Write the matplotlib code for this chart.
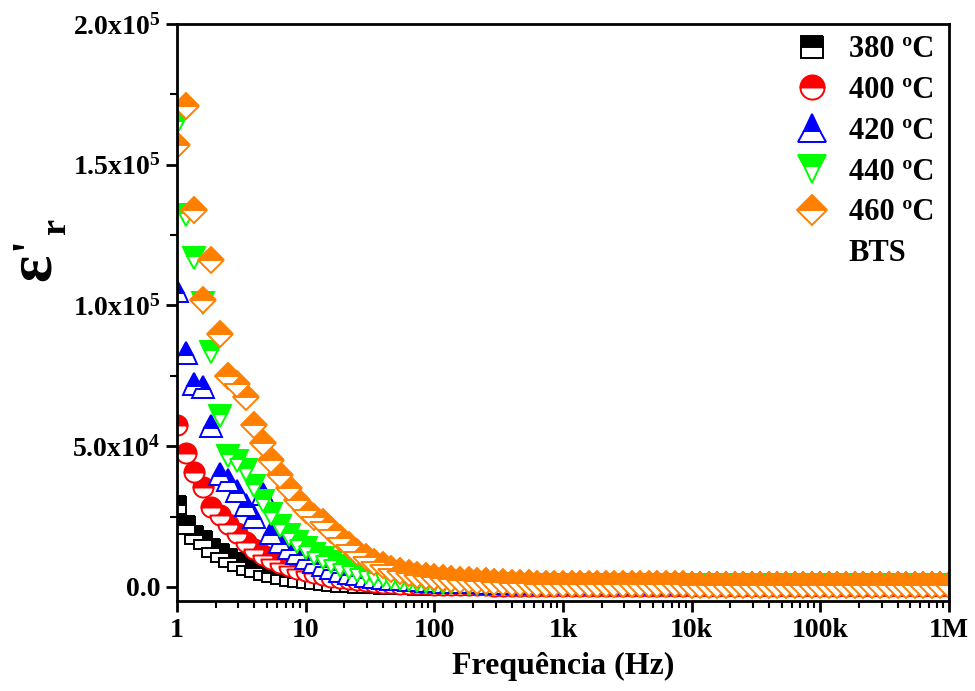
import numpy as np
import matplotlib.pyplot as plt
from matplotlib.lines import Line2D
from matplotlib.ticker import FixedLocator, LogLocator, NullFormatter

plt.rcParams["font.family"] = ["Liberation Serif", "DejaVu Serif"]
plt.rcParams["font.weight"] = "bold"
plt.rcParams["mathtext.fontset"] = "custom"
plt.rcParams["mathtext.rm"] = "Liberation Serif:bold"
plt.rcParams["mathtext.bf"] = "Liberation Serif:bold"
plt.rcParams["mathtext.it"] = "Liberation Serif:italic:bold"

# frequency sweep: 15 points per decade, 1 Hz to 1 MHz
freq = np.logspace(0, 6, 91)

# real permittivity, in units of 1e3
eps_380 = [29, 22, 18.5, 16.5, 14, 12, 10.3, 8.8, 7.6, 6.6, 5.7, 4.9, 4.2, 3.6, 3.1,
           2.7, 2.3, 2.0, 1.7, 1.5, 1.3, 1.1, 1.0, 0.9, 0.8, 0.7, 0.6, 0.6, 0.5, 0.5,
           0.4, 0.4, 0.4, 0.4, 0.4, 0.3, 0.3, 0.3, 0.3, 0.3, 0.3, 0.3, 0.3, 0.3, 0.3,
           0.3, 0.3, 0.3, 0.3, 0.3, 0.3, 0.3, 0.3, 0.3, 0.3, 0.3, 0.3, 0.3, 0.3, 0.3,
           0.3, 0.3, 0.3, 0.3, 0.3, 0.3, 0.3, 0.3, 0.3, 0.3, 0.3, 0.3, 0.3, 0.3, 0.3,
           0.3, 0.3, 0.3, 0.3, 0.3, 0.3, 0.3, 0.3, 0.3, 0.3, 0.3, 0.3, 0.3, 0.3, 0.3,
           0.3]
eps_400 = [57.5, 47.6, 41, 35.5, 28.5, 25.6, 22.4, 19.2, 16.1, 13.5, 11.5, 10, 8.6, 7.4, 6.4,
           5.5, 4.8, 4.2, 3.6, 3.1, 2.7, 2.3, 2.0, 1.7, 1.5, 1.3, 1.2, 1.1, 1.0, 0.9,
           0.8, 0.8, 0.7, 0.7, 0.6, 0.6, 0.6, 0.5, 0.5, 0.5, 0.5, 0.5, 0.5, 0.5, 0.5,
           0.5, 0.5, 0.5, 0.5, 0.5, 0.5, 0.5, 0.5, 0.5, 0.5, 0.5, 0.5, 0.5, 0.5, 0.5,
           0.5, 0.5, 0.5, 0.5, 0.5, 0.5, 0.5, 0.5, 0.5, 0.5, 0.5, 0.5, 0.5, 0.5, 0.5,
           0.5, 0.5, 0.5, 0.5, 0.5, 0.5, 0.5, 0.5, 0.5, 0.5, 0.5, 0.5, 0.5, 0.5, 0.5,
           0.5]
eps_420 = [105, 83, 72, 71, 57, 40, 38, 34, 29, 25, 33, 19, 16, 14, 12,
           10.3, 8.9, 7.7, 6.7, 5.8, 5.1, 4.5, 4.0, 3.6, 3.2, 2.9, 2.7, 2.5, 2.3, 2.1,
           2.0, 1.9, 1.8, 1.7, 1.6, 1.6, 1.5, 1.5, 1.5, 1.4, 1.4, 1.4, 1.4, 1.4, 1.4,
           1.4, 1.4, 1.4, 1.4, 1.4, 1.4, 1.4, 1.4, 1.4, 1.4, 1.4, 1.4, 1.4, 1.4, 1.4,
           1.4, 1.4, 1.4, 1.4, 1.4, 1.4, 1.4, 1.4, 1.4, 1.4, 1.4, 1.4, 1.4, 1.4, 1.4,
           1.4, 1.4, 1.4, 1.4, 1.4, 1.4, 1.4, 1.4, 1.4, 1.4, 1.4, 1.4, 1.4, 1.4, 1.4,
           1.4]
eps_440 = [165, 132, 117, 101, 83.5, 60.6, 46.4, 44.6, 41.7, 36, 30.4, 25.8, 21.8, 18.6, 15.8,
           13.7, 11.8, 10.2, 8.8, 7.6, 6.6, 5.7, 5.0, 4.4, 3.8, 3.3, 2.9, 2.5, 2.2, 1.9,
           1.7, 1.5, 1.4, 1.3, 1.2, 1.1, 1.0, 0.9, 0.9, 0.8, 0.8, 0.7, 0.7, 0.7, 0.6,
           0.6, 0.6, 0.6, 0.6, 0.6, 0.6, 0.6, 0.6, 0.6, 0.6, 0.6, 0.6, 0.6, 0.6, 0.6,
           0.6, 0.6, 0.6, 0.6, 0.6, 0.6, 0.6, 0.6, 0.6, 0.6, 0.6, 0.6, 0.6, 0.6, 0.6,
           0.6, 0.6, 0.6, 0.6, 0.6, 0.6, 0.6, 0.6, 0.6, 0.6, 0.6, 0.6, 0.6, 0.6, 0.6,
           0.6]
eps_460 = [157, 171, 134, 102, 116, 90, 75, 72, 67.6, 57.5, 51, 45, 39.8, 35.1, 30.9,
           27.5, 25, 22.9, 20.2, 17.5, 14.9, 12.3, 10.5, 9.0, 7.8, 6.4, 5.6, 5.0, 4.4, 3.9,
           3.5, 3.2, 2.9, 2.6, 2.4, 2.2, 2.0, 1.8, 1.6, 1.5, 1.4, 1.3, 1.2, 1.1, 1.0,
           1.0, 0.9, 0.9, 0.9, 0.9, 0.9, 0.9, 0.9, 0.9, 0.9, 0.9, 0.9, 0.9, 0.9, 0.9,
           0.8, 0.8, 0.8, 0.8, 0.8, 0.8, 0.8, 0.8, 0.8, 0.8, 0.8, 0.8, 0.8, 0.8, 0.8,
           0.7, 0.7, 0.7, 0.7, 0.7, 0.7, 0.7, 0.7, 0.7, 0.7, 0.7, 0.7, 0.7, 0.7, 0.7,
           0.7]

series = [eps_380, eps_400, eps_420, eps_440, eps_460]
labels = ["380 ºC", "400 ºC", "420 ºC", "440 ºC", "460 ºC"]
colors = ["#000000", "#ff0000", "#0000ff", "#00ff00", "#ff8000"]
markers = ["s", "o", "^", "v", "D"]
sizes = [13, 14.5, 16.5, 16.5, 12.8]

xticks = [1, 10, 100, 1e3, 1e4, 1e5, 1e6]
xticklabels = ["1", "10", "100", "1k", "10k", "100k", "1M"]
yticks = [0, 5e4, 1e5, 1.5e5, 2e5]
yticklabels = ["0.0", r"$\mathbf{5.0x10^{4}}$", r"$\mathbf{1.0x10^{5}}$",
               r"$\mathbf{1.5x10^{5}}$", r"$\mathbf{2.0x10^{5}}$"]

fig = plt.figure(figsize=(9.75, 6.91), dpi=100)
ax = fig.add_axes([177 / 975, 1 - 601 / 691, 772 / 975, 577 / 691])

for vals, lab, col, mk, ms in zip(series, labels, colors, markers, sizes):
    ax.plot(freq, np.asarray(vals) * 1e3, linestyle="none", marker=mk, markersize=ms,
            fillstyle="top", markerfacecolor=col, markerfacecoloralt="white",
            markeredgecolor=col, markeredgewidth=1.4, label=lab)

ax.set_xscale("log")
ax.set_xlim(1, 1e6)
ax.set_ylim(-5000, 200000)
ax.set_xticks(xticks)
ax.set_xticklabels(xticklabels)
ax.xaxis.set_minor_locator(LogLocator(base=10, subs=np.arange(2, 10), numticks=20))
ax.xaxis.set_minor_formatter(NullFormatter())
ax.set_yticks(yticks)
ax.set_yticklabels(yticklabels)
ax.yaxis.set_minor_locator(FixedLocator([2.5e4, 7.5e4, 1.25e5, 1.75e5]))

ax.tick_params(which="major", direction="out", length=8, width=2, labelsize=20, pad=4)
ax.tick_params(which="minor", direction="out", length=5, width=1.5)
for sp in ax.spines.values():
    sp.set_linewidth(2)

ax.set_xlabel("Frequência (Hz)", fontsize=23, fontweight="bold", labelpad=7)

# y label: epsilon with prime and subscript r, rotated
fig.text(35 / 975, 1 - 267 / 691, "ε", fontsize=46, fontweight="bold",
         rotation=90, ha="center", va="center")
fig.text(30 / 975, 1 - 243 / 691, "'", fontsize=34, fontweight="bold",
         rotation=90, ha="center", va="center")
fig.text(57 / 975, 1 - 226 / 691, "r", fontsize=26, fontweight="bold",
         rotation=90, ha="center", va="center")

handles, labs = ax.get_legend_handles_labels()
handles.append(Line2D([], [], linestyle="none"))
labs.append("BTS")
ax.legend(handles, labs, loc="upper left", bbox_to_anchor=(0.783, 1.007), frameon=False,
          borderpad=0, handlelength=1.0, handletextpad=0.7, labelspacing=0.385,
          markerscale=1.2, prop={"size": 22, "weight": "bold"})

fig.savefig("out.png", dpi=100)
